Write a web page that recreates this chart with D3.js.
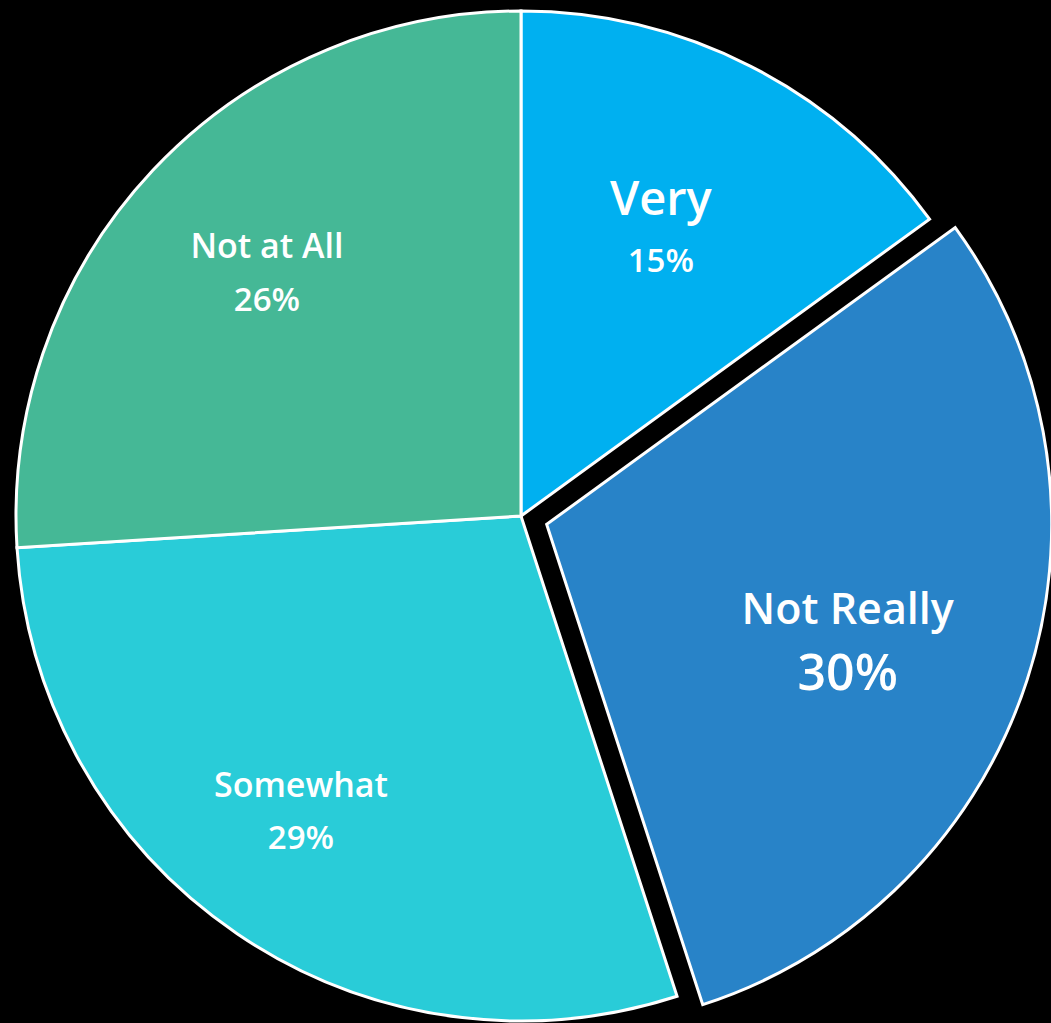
<!DOCTYPE html>
<html>
<head>
<meta charset="utf-8">
<script src="https://cdn.jsdelivr.net/npm/d3@7"></script>
<style>
  html, body { margin: 0; padding: 0; background: #000; }
  svg { display: block; }
</style>
</head>
<body>
<svg id="chart" width="1051" height="1023"></svg>
<script>
// Survey answers and their shares (percent)
const categories = ["Very", "Not Really", "Somewhat", "Not at All"];
const values = [15, 30, 29, 26];
const colors = ["#00b0f0", "#2883c8", "#29ccd8", "#45b896"];

// Per-slice label styling
const titleSizes = [47, 43, 34, 34];
const valueSizes = [33, 50, 33, 33];
const lineGaps = [57, 66, 52, 53];
const labelRadii = [306, 329, 378, 344];
const labelAngleShift = [0.2, 5.8, 1.4, -0.8]; // degrees
const explode = [0, 27, 0, 0];

const width = 1051, height = 1023;
const cx = 521, cy = 516, radius = 505;

const svg = d3.select("#chart");
svg.append("rect").attr("width", width).attr("height", height).attr("fill", "#000");

const g = svg.append("g").attr("transform", `translate(${cx},${cy})`);

const pie = d3.pie().sort(null).value(d => d.value);
const arc = d3.arc().innerRadius(0).outerRadius(radius);

const data = categories.map((c, i) => ({ name: c, value: values[i], i }));
const arcs = pie(data);

const slices = g.selectAll("g.slice").data(arcs).join("g")
  .attr("class", "slice")
  .attr("transform", d => {
    const mid = (d.startAngle + d.endAngle) / 2;
    const e = explode[d.data.i];
    return `translate(${Math.sin(mid) * e},${-Math.cos(mid) * e})`;
  });

slices.append("path")
  .attr("d", arc)
  .attr("fill", d => colors[d.data.i])
  .attr("stroke", "#fff")
  .attr("stroke-width", 3)
  .attr("stroke-linejoin", "miter");

const labels = slices.append("text")
  .attr("text-anchor", "middle")
  .attr("fill", "#fff")
  .attr("font-family", "'Open Sans', Lato, sans-serif")
  .attr("transform", d => {
    const mid = (d.startAngle + d.endAngle) / 2 + labelAngleShift[d.data.i] * Math.PI / 180;
    const r = labelRadii[d.data.i];
    return `translate(${Math.sin(mid) * r},${-Math.cos(mid) * r})`;
  });

labels.append("tspan")
  .attr("x", 0)
  .attr("y", d => -lineGaps[d.data.i] / 2)
  .attr("font-size", d => titleSizes[d.data.i])
  .attr("font-weight", 600)
  .text(d => d.data.name);

labels.append("tspan")
  .attr("x", 0)
  .attr("y", d => lineGaps[d.data.i] / 2)
  .attr("font-size", d => valueSizes[d.data.i])
  .attr("font-weight", 600)
  .text(d => d.data.value + "%");
</script>
</body>
</html>
